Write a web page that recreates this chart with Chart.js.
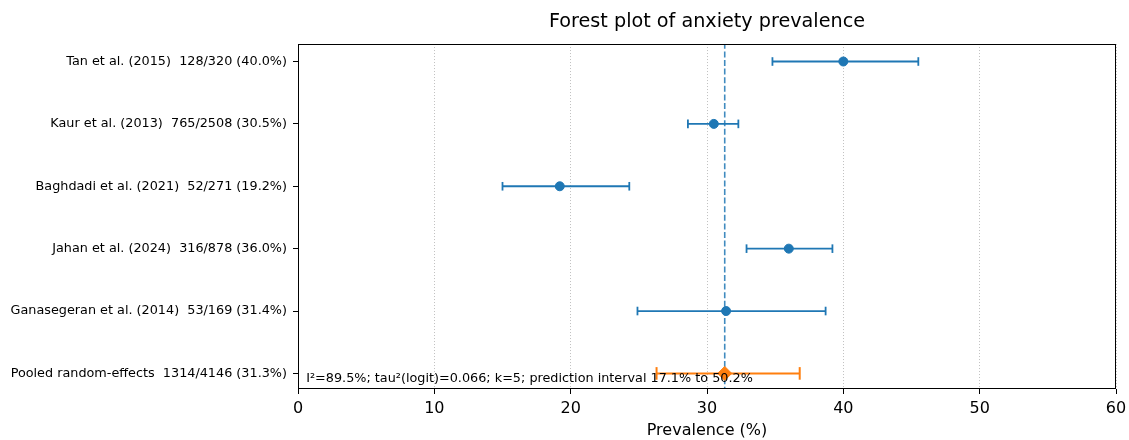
<!DOCTYPE html>
<html>
<head>
<meta charset="utf-8">
<script src="https://cdn.jsdelivr.net/npm/chart.js@4/dist/chart.umd.min.js"></script>
<style>
  html, body { margin: 0; padding: 0; background: #fff; }
  #wrap { width: 1129px; height: 440px; }
</style>
</head>
<body>
<div id="wrap"><canvas id="forest" width="1129" height="440"></canvas></div>
<script>
// study rows, top to bottom
const studyLabels = [
  'Tan et al. (2015)  128/320 (40.0%)',
  'Kaur et al. (2013)  765/2508 (30.5%)',
  'Baghdadi et al. (2021)  52/271 (19.2%)',
  'Jahan et al. (2024)  316/878 (36.0%)',
  'Ganasegeran et al. (2014)  53/169 (31.4%)',
  'Pooled random-effects  1314/4146 (31.3%)'
];
const prevalence = [40.0, 30.5, 19.2, 36.0, 31.4, 31.3];
const ciLow  = [34.8, 28.6, 15.0, 32.9, 24.9, 26.3];
const ciHigh = [45.5, 32.3, 24.3, 39.2, 38.7, 36.8];
const pooledValue = 31.3;
const xTicks = [0, 10, 20, 30, 40, 50, 60];
const noteText = 'I\u00b2=89.5%; tau\u00b2(logit)=0.066; k=5; prediction interval 17.1% to 50.2%';

const blue = '#1f77b4';
const orange = '#ff7f0e';
const font = "'DejaVu Sans', sans-serif";
const nStudies = studyLabels.length - 1;

let datasets = [];

// reference line at pooled estimate
datasets.push({
  type: 'line',
  data: [{x: pooledValue, y: -0.3}, {x: pooledValue, y: 5.25}],
  borderColor: 'rgba(31,119,180,0.85)',
  borderWidth: 1.6,
  borderDash: [6, 2.6],
  pointRadius: 0,
  order: 5
});

// CI whiskers with caps (pooled row gets bigger caps)
for (let i = 0; i < studyLabels.length; i++) {
  const pooled = i === nStudies;
  const col = pooled ? orange : blue;
  datasets.push({
    type: 'line',
    data: [{x: ciLow[i], y: i}, {x: ciHigh[i], y: i}],
    borderColor: col,
    borderWidth: pooled ? 2 : 1.8,
    pointStyle: 'line',
    rotation: 90,
    pointRadius: pooled ? 6.3 : 4.3,
    pointBorderColor: col,
    pointBorderWidth: pooled ? 2 : 1.8,
    order: 3
  });
}

// point estimates
datasets.push({
  type: 'scatter',
  data: prevalence.slice(0, nStudies).map((v, i) => ({x: v, y: i})),
  backgroundColor: blue,
  borderColor: blue,
  pointRadius: 4.5,
  order: 1
});
datasets.push({
  type: 'scatter',
  data: [{x: prevalence[nStudies], y: nStudies}],
  pointStyle: 'rectRot',
  backgroundColor: orange,
  borderColor: orange,
  pointRadius: 7,
  order: 1
});

// full frame + note text
const framePlugin = {
  id: 'frame',
  afterDraw(chart) {
    const {ctx, chartArea: a, scales} = chart;
    ctx.save();
    ctx.strokeStyle = '#000';
    ctx.lineWidth = 1;
    ctx.strokeRect(Math.round(a.left) + 0.5, Math.round(a.top) + 0.5,
      Math.round(a.right - a.left) - 1, Math.round(a.bottom - a.top) - 1);
    ctx.fillStyle = '#000';
    ctx.font = '12.8px ' + font;
    ctx.textBaseline = 'middle';
    ctx.textAlign = 'left';
    ctx.fillText(noteText, scales.x.getPixelForValue(0.6), scales.y.getPixelForValue(5.08));
    ctx.restore();
  }
};

new Chart(document.getElementById('forest'), {
  data: { datasets: datasets },
  options: {
    responsive: false,
    animation: false,
    events: [],
    layout: { padding: { left: 0, right: 13, top: 0, bottom: 0 } },
    plugins: {
      legend: { display: false },
      tooltip: { enabled: false },
      title: {
        display: true,
        text: 'Forest plot of anxiety prevalence',
        fullSize: false,
        color: '#000',
        font: { family: font, size: 19.2, weight: 'normal' },
        padding: { top: 10, bottom: 11 }
      }
    },
    scales: {
      x: {
        type: 'linear',
        min: 0,
        max: 60,
        afterBuildTicks: s => { s.ticks = xTicks.map(v => ({value: v})); },
        afterFit: s => { s.height = 51; s.paddingRight = 0; s.paddingLeft = 0; },
        grid: {
          color: '#b0b0b0',
          lineWidth: 0.8,
          tickColor: '#000',
          tickLength: 5,
          tickWidth: 1,
          tickBorderDash: []
        },
        border: { display: false, dash: [1, 2] },
        ticks: { color: '#000', font: { family: font, size: 16 }, padding: 5, maxRotation: 0 },
        title: {
          display: true,
          text: 'Prevalence (%)',
          color: '#000',
          font: { family: font, size: 16 },
          padding: { top: 0, bottom: 0 }
        }
      },
      y: {
        type: 'linear',
        reverse: true,
        min: -0.28,
        max: 5.25,
        afterBuildTicks: s => { s.ticks = studyLabels.map((l, i) => ({value: i})); },
        afterFit: s => { s.width = 298; },
        grid: {
          drawOnChartArea: false,
          tickColor: '#000',
          tickLength: 5,
          tickWidth: 1
        },
        border: { display: false },
        ticks: {
          color: '#000',
          font: { family: font, size: 12.8 },
          padding: 6,
          callback: v => studyLabels[v] || ''
        }
      }
    }
  },
  plugins: [framePlugin]
});
</script>
</body>
</html>
